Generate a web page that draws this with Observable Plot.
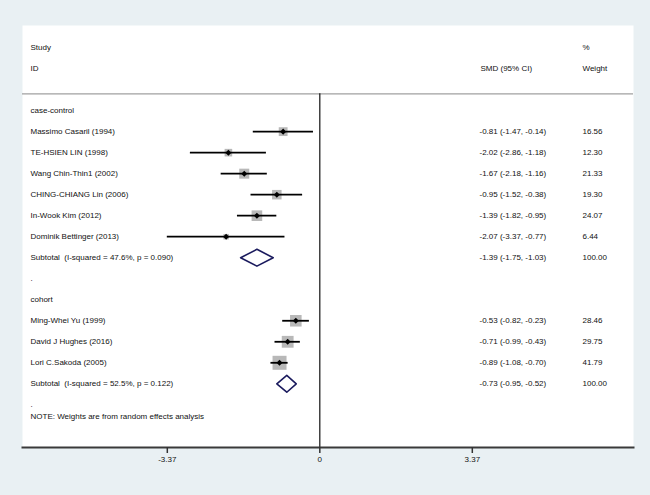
<!DOCTYPE html>
<html><head><meta charset="utf-8">
<script src="https://cdn.jsdelivr.net/npm/d3@7"></script>
<script src="https://cdn.jsdelivr.net/npm/@observablehq/plot@0.6"></script>
<style>
html,body{margin:0;padding:0;background:#e9f0f3;}
svg text{white-space:pre;}
</style></head><body><div id="chart"></div>
<script>
// ---- data ----
const groups = ["case-control", "cohort"];
const studies = ["Massimo Casaril (1994)", "TE-HSIEN LIN (1998)", "Wang Chin-Thin1 (2002)", "CHING-CHIANG Lin (2006)", "In-Wook Kim (2012)", "Dominik Bettinger (2013)", "Ming-Whei Yu (1999)", "David J Hughes (2016)", "Lori C.Sakoda (2005)"];
const studyGroup = ["case-control", "case-control", "case-control", "case-control", "case-control", "case-control", "cohort", "cohort", "cohort"];
const smd = [-0.81, -2.02, -1.67, -0.95, -1.39, -2.07, -0.53, -0.71, -0.89];
const ciLow = [-1.47, -2.86, -2.18, -1.52, -1.82, -3.37, -0.82, -0.99, -1.08];
const ciHigh = [-0.14, -1.18, -1.16, -0.38, -0.95, -0.77, -0.23, -0.43, -0.70];
const weight = [16.56, 12.30, 21.33, 19.30, 24.07, 6.44, 28.46, 29.75, 41.79];
const subtotalHet = ["I-squared = 47.6%, p = 0.090", "I-squared = 52.5%, p = 0.122"];
const subSmd = [-1.39, -0.73];
const subLow = [-1.75, -0.95];
const subHigh = [-1.03, -0.52];
const subWeight = [100.00, 100.00];
const xTicks = [-3.37, 0, 3.37];
const headerLeft = ["Study", "ID"];
const headerCI = ["SMD (95% CI)"];
const headerWeight = ["%", "Weight"];
const note = ["NOTE: Weights are from random effects analysis"];

// ---- build rows ----
const rows = [];
let r = 0;
groups.forEach((g, gi) => {
  rows.push({row: r++, label: g, kind: "group"});
  studies.forEach((s, i) => {
    if (studyGroup[i] === g) rows.push({row: r++, label: s, kind: "study", est: smd[i], lo: ciLow[i], hi: ciHigh[i], w: weight[i]});
  });
  rows.push({row: r++, label: `Subtotal  (${subtotalHet[gi]})`, kind: "subtotal", est: subSmd[gi], lo: subLow[gi], hi: subHigh[gi], w: subWeight[gi], k: g});
  rows.push({row: r++, label: ".", kind: "spacer"});
});
const noteRow = r - 1 + 0.55;
const studyRows = rows.filter(d => d.kind === "study");
const subRows = rows.filter(d => d.kind === "subtotal");
const valueRows = rows.filter(d => d.kind === "study" || d.kind === "subtotal");
const h = 0.4;
const diamondPts = subRows.flatMap(d => [
  {x: d.lo, y: d.row, k: d.k}, {x: d.est, y: d.row - h, k: d.k},
  {x: d.hi, y: d.row, k: d.k}, {x: d.est, y: d.row + h, k: d.k}]);

const yTop = -4.05, yBottom = 16.03, yRule = -0.8;
const f2 = v => v.toFixed(2);
const font = "'Liberation Sans', Arial, Helvetica, sans-serif";
const fs = 8;

const chart = Plot.plot({
  width: 650, height: 495,
  marginLeft: 22, marginRight: 17, marginTop: 25, marginBottom: 48,
  style: {background: "#e9f0f3", fontFamily: font, fontSize: "8px", color: "#111"},
  x: {domain: [-6.570, 6.932]},
  y: {domain: [yBottom, yTop], axis: null},
  r: {type: "sqrt", domain: [0, d3.max(weight)], range: [0, 7.9]},
  marks: [
    Plot.frame({fill: "white", stroke: "none"}),
    Plot.ruleY([yRule], {stroke: "#a0a0a0", strokeWidth: 1.3}),
    Plot.ruleX([0], {y1: yRule, y2: yBottom, stroke: "#111", strokeWidth: 1.2}),
    Plot.frame({anchor: "bottom", stroke: "#3a3a3a", strokeWidth: 2}),
    Plot.axisX(xTicks, {tickSize: 6, tickPadding: 3, fontSize: fs, stroke: "#333", strokeWidth: 1.5,
      tickFormat: d => d === 0 ? "0" : f2(d), label: null, fill: "#111"}),
    // text columns
    Plot.text(headerLeft, {text: d => d, y: (d, i) => -3 + i, frameAnchor: "left", dx: 8, textAnchor: "start", fontSize: fs, fill: "#111"}),
    Plot.text(headerCI, {text: d => d, y: () => -2, frameAnchor: "left", dx: 458, textAnchor: "start", fontSize: fs, fill: "#111"}),
    Plot.text(headerWeight, {text: d => d, y: (d, i) => -3 + i, frameAnchor: "left", dx: 560, textAnchor: "start", fontSize: fs, fill: "#111"}),
    Plot.text(rows, {text: "label", y: "row", frameAnchor: "left", dx: 8, textAnchor: "start", fontSize: fs, fill: "#111"}),
    Plot.text(valueRows, {text: d => `${f2(d.est)} (${f2(d.lo)}, ${f2(d.hi)})`, y: "row", frameAnchor: "left", dx: 457, textAnchor: "start", fontSize: fs, fill: "#111"}),
    Plot.text(valueRows, {text: d => f2(d.w), y: "row", frameAnchor: "left", dx: 560, textAnchor: "start", fontSize: fs, fill: "#111"}),
    Plot.text(note, {text: d => d, y: () => noteRow, frameAnchor: "left", dx: 8, textAnchor: "start", fontSize: fs, fill: "#111"}),
    // forest marks
    Plot.dot(studyRows, {x: "est", y: "row", r: "w", symbol: "square", fill: "#b8b8b8"}),
    Plot.ruleY(studyRows, {y: "row", x1: "lo", x2: "hi", stroke: "#000", strokeWidth: 1.8}),
    Plot.dot(studyRows, {x: "est", y: "row", r: 2.4, symbol: "square", rotate: 45, fill: "#000"}),
    Plot.line(diamondPts, {x: "x", y: "y", z: "k", curve: "linear-closed", stroke: "#1b1b5e", strokeWidth: 1.6, fill: "white"})
  ]
});
document.getElementById("chart").appendChild(chart);
</script></body></html>
